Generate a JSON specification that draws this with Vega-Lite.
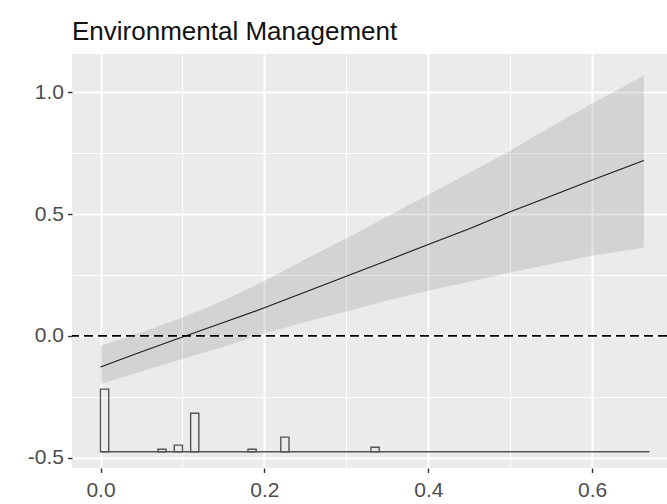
{
  "$schema": "https://vega.github.io/schema/vega-lite/v6.json",
  "width": 595,
  "height": 414,
  "autosize": {"type": "none"},
  "padding": {"left": 72, "top": 54, "right": 0, "bottom": 36},
  "background": "white",
  "config": {
    "view": {"fill": "#EBEBEB", "stroke": null},
    "font": "Liberation Sans"
  },
  "title": {
    "text": "Environmental Management",
    "anchor": "start",
    "frame": "group",
    "fontSize": 26,
    "fontWeight": "normal",
    "font": "Liberation Sans",
    "color": "#111111",
    "baseline": "alphabetic",
    "offset": -12
  },
  "datasets": {
    "effect": [
      {"x": 0.0, "est": -0.128, "lo": -0.198, "hi": -0.041},
      {"x": 0.05, "est": -0.065, "lo": -0.145, "hi": 0.015},
      {"x": 0.1, "est": -0.005, "lo": -0.095, "hi": 0.075},
      {"x": 0.15, "est": 0.055, "lo": -0.045, "hi": 0.145},
      {"x": 0.2, "est": 0.115, "lo": 0.01, "hi": 0.225},
      {"x": 0.25, "est": 0.18, "lo": 0.057, "hi": 0.315},
      {"x": 0.3, "est": 0.245, "lo": 0.1, "hi": 0.4},
      {"x": 0.35, "est": 0.31, "lo": 0.145, "hi": 0.49},
      {"x": 0.4, "est": 0.375, "lo": 0.185, "hi": 0.58},
      {"x": 0.45, "est": 0.44, "lo": 0.222, "hi": 0.67},
      {"x": 0.5, "est": 0.51, "lo": 0.26, "hi": 0.76},
      {"x": 0.55, "est": 0.575, "lo": 0.295, "hi": 0.86},
      {"x": 0.6, "est": 0.64, "lo": 0.33, "hi": 0.955},
      {"x": 0.663, "est": 0.72, "lo": 0.362, "hi": 1.07}
    ],
    "bins": [
      {"x0": 0.0, "x1": 0.01, "base": -0.476, "top": -0.219},
      {"x0": 0.07, "x1": 0.08, "base": -0.476, "top": -0.466},
      {"x0": 0.09, "x1": 0.1, "base": -0.476, "top": -0.449},
      {"x0": 0.11, "x1": 0.12, "base": -0.476, "top": -0.318},
      {"x0": 0.18, "x1": 0.19, "base": -0.476, "top": -0.466},
      {"x0": 0.22, "x1": 0.23, "base": -0.476, "top": -0.416},
      {"x0": 0.33, "x1": 0.34, "base": -0.476, "top": -0.458}
    ],
    "one": [{}]
  },
  "resolve": {"axis": {"x": "independent", "y": "independent"}},
  "layer": [
    {
      "data": {"name": "effect"},
      "mark": {"type": "area", "color": "#7F7F7F", "opacity": 0.22},
      "encoding": {
        "x": {
          "field": "x", "type": "quantitative",
          "scale": {"domain": [-0.0348, 0.6913], "nice": false, "zero": false},
          "axis": {"orient": "bottom", "values": [0.1, 0.3, 0.5, 0.7], "grid": true, "gridColor": "white", "gridWidth": 1.1,
                   "labels": false, "ticks": false, "domain": false, "title": null}
        },
        "y": {
          "field": "lo", "type": "quantitative",
          "scale": {"domain": [-0.543, 1.158], "nice": false, "zero": false},
          "axis": {"orient": "left", "values": [-0.25, 0.25, 0.75], "grid": true, "gridColor": "white", "gridWidth": 1.1,
                   "labels": false, "ticks": false, "domain": false, "title": null}
        },
        "y2": {"field": "hi"}
      }
    },
    {
      "data": {"name": "effect"},
      "mark": {"type": "line", "color": "#1a1a1a", "strokeWidth": 1.1},
      "encoding": {
        "x": {
          "field": "x", "type": "quantitative",
          "axis": {"orient": "bottom", "values": [0, 0.2, 0.4, 0.6],
                   "labelExpr": "replace(format(datum.value, '.1f'), '\u2212', '-')",
                   "grid": true, "gridColor": "white", "gridWidth": 2,
                   "domain": false, "ticks": true, "tickColor": "#333333", "tickWidth": 1.4, "tickSize": 4.5,
                   "labelColor": "#4D4D4D", "labelFontSize": 21, "labelFont": "Liberation Sans", "labelPadding": 7, "title": null}
        },
        "y": {
          "field": "est", "type": "quantitative",
          "axis": {"orient": "left", "values": [-0.5, 0, 0.5, 1],
                   "labelExpr": "replace(format(datum.value, '.1f'), '\u2212', '-')",
                   "grid": true, "gridColor": "white", "gridWidth": 2,
                   "domain": false, "ticks": true, "tickColor": "#333333", "tickWidth": 1.4, "tickSize": 4.5,
                   "labelColor": "#4D4D4D", "labelFontSize": 21, "labelFont": "Liberation Sans", "labelPadding": 4, "title": null}
        }
      }
    },
    {
      "data": {"name": "one"},
      "mark": {"type": "rule", "color": "black", "strokeWidth": 1.6, "strokeDash": [9, 5]},
      "encoding": {
        "y": {"datum": 0, "type": "quantitative", "axis": null}
      }
    },
    {
      "data": {"name": "one"},
      "mark": {"type": "rule", "color": "#555555", "strokeWidth": 1.4},
      "encoding": {
        "x": {"datum": 0, "type": "quantitative", "axis": null},
        "x2": {"datum": 0.67},
        "y": {"datum": -0.476, "type": "quantitative", "axis": null}
      }
    },
    {
      "data": {"name": "bins"},
      "mark": {"type": "rect", "fill": "#EBEBEB", "fillOpacity": 0, "stroke": "#555555", "strokeWidth": 1.4},
      "encoding": {
        "x": {"field": "x0", "type": "quantitative", "axis": null},
        "x2": {"field": "x1"},
        "y": {"field": "base", "type": "quantitative", "axis": null},
        "y2": {"field": "top"}
      }
    }
  ]
}
